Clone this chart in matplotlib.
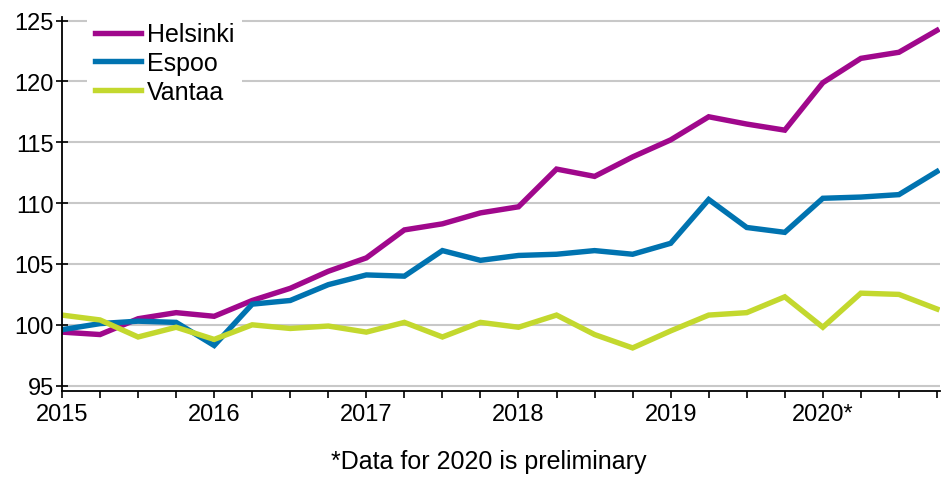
import matplotlib
matplotlib.use("Agg")
import matplotlib.pyplot as plt

plt.rcParams['font.family'] = ['Liberation Sans', 'DejaVu Sans']

# quarterly index, 2015Q1 .. 2020Q4
quarters = list(range(24))
year_labels = ['2015', '2016', '2017', '2018', '2019', '2020*']

helsinki = [99.4, 99.2, 100.5, 101.0, 100.7, 102.0, 103.0, 104.4, 105.5, 107.8,
            108.3, 109.2, 109.7, 112.8, 112.2, 113.8, 115.2, 117.1, 116.5, 116.0,
            119.9, 121.9, 122.4, 124.2]
espoo = [99.6, 100.1, 100.3, 100.2, 98.3, 101.7, 102.0, 103.3, 104.1, 104.0,
         106.1, 105.3, 105.7, 105.8, 106.1, 105.8, 106.7, 110.3, 108.0, 107.6,
         110.4, 110.5, 110.7, 112.6]
vantaa = [100.8, 100.4, 99.0, 99.8, 98.8, 100.0, 99.7, 99.9, 99.4, 100.2,
          99.0, 100.2, 99.8, 100.8, 99.2, 98.1, 99.5, 100.8, 101.0, 102.3,
          99.8, 102.6, 102.5, 101.3]

names = ['Helsinki', 'Espoo', 'Vantaa']
colors = ['#a0088c', '#0073b0', '#c3d82e']

fig = plt.figure(figsize=(9.49, 4.85), dpi=100)
ax = fig.add_axes([62/949, 1-392/485, 878/949, (392-18)/485])

for vals, name, col in zip([helsinki, espoo, vantaa], names, colors):
    ax.plot(quarters, vals, color=col, lw=3.9, label=name, solid_joinstyle='miter')

ax.set_xlim(0, 23.08)
ax.set_ylim(94.56, 125.3)
ax.set_yticks([95, 100, 105, 110, 115, 120, 125])
ax.set_xticks(quarters, minor=True)
ax.set_xticks(list(range(0, 24, 4)))
ax.set_xticklabels(year_labels)

ax.grid(axis='y', color='#c8c8c8', lw=1.5)
ax.set_axisbelow(True)
for s in ['top', 'right']:
    ax.spines[s].set_visible(False)
for s in ['left', 'bottom']:
    ax.spines[s].set_linewidth(1.3)

ax.tick_params(axis='y', direction='inout', length=8, width=1.2, labelsize=17, pad=2)
ax.tick_params(axis='x', which='both', direction='out', length=5, width=1.2, labelsize=17, pad=4)

leg = ax.legend(loc='upper left', bbox_to_anchor=(87/949, 1-16/485), bbox_transform=fig.transFigure,
                fontsize=18, frameon=True, fancybox=False, edgecolor='none', facecolor='white',
                framealpha=1, handlelength=1.85, handletextpad=0.25, labelspacing=0.18,
                borderpad=0.3, borderaxespad=0)

fig.text(489/949, 1-462/485, '*Data for 2020 is preliminary', ha='center', va='center', fontsize=18)

fig.savefig('out.png', dpi=100)
